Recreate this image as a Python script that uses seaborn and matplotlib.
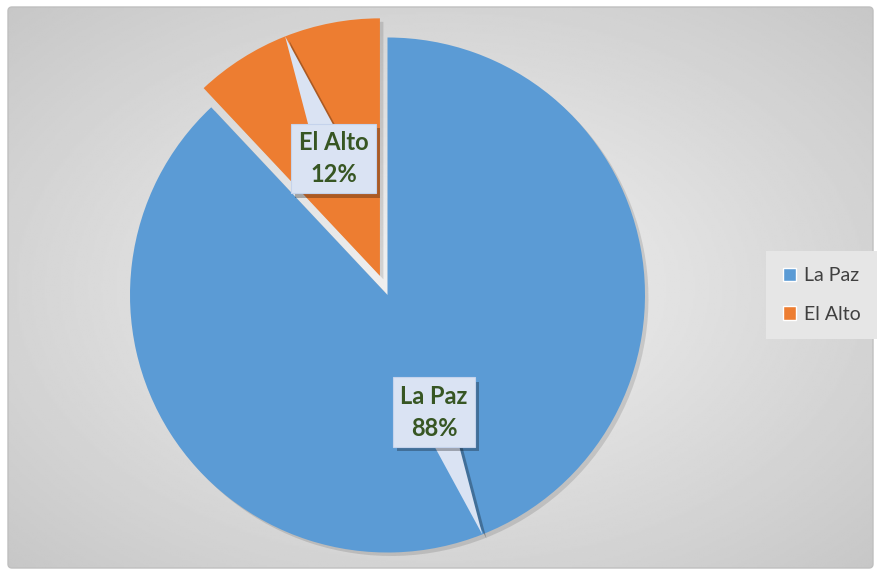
import numpy as np
import matplotlib.pyplot as plt
import matplotlib.patheffects as pe
from matplotlib.patches import FancyBboxPatch, Polygon, Patch
import seaborn as sns

# data
labels = ['La Paz', 'El Alto']
values = [88, 12]
colors = ['#5B9BD5', '#ED7D31']
explode = [0, 0.08]

sns.set_theme(style='white')
plt.rcParams['font.family'] = ['Lato', 'DejaVu Sans']

fig = plt.figure(figsize=(8.81, 5.77), dpi=100)
fig.patch.set_facecolor('white')

# chart area with a radial grey gradient
bg = fig.add_axes([0, 0, 1, 1])
yy, xx = np.mgrid[0:1:300j, 0:1:450j]
dist = np.sqrt((xx - 0.5) ** 2 + (yy - 0.5) ** 2) / np.sqrt(0.5)
shade = 0.95 - 0.17 * dist
im = bg.imshow(shade, cmap='gray', vmin=0, vmax=1, extent=(8, 873, 568, 7), aspect='auto')
frame = FancyBboxPatch((8, 7), 865, 561, boxstyle='round,pad=0,rounding_size=4',
                       fc='none', ec='#bfbfbf', lw=1)
bg.add_patch(frame)
im.set_clip_path(frame)
bg.set_xlim(0, 881)
bg.set_ylim(577, 0)
bg.axis('off')

# pie
ax = fig.add_axes([130 / 881, 24.5 / 577, 515 / 881, 515 / 577])
wedges, _ = ax.pie(values, colors=colors, explode=explode, startangle=90,
                   counterclock=False, wedgeprops=dict(linewidth=0))
ax.set_xlim(-1, 1)
ax.set_ylim(-1, 1)
ax.axis('off')
for w in wedges:
    w.set_clip_on(False)
    w.set_path_effects([pe.SimplePatchShadow(offset=(2.5, -2.5), shadow_rgbFace='black', alpha=0.12),
                        pe.Normal()])

# callout labels
shadow = [pe.SimplePatchShadow(offset=(3, -3), shadow_rgbFace='black', alpha=0.28), pe.Normal()]
for w, lab, val in zip(wedges, labels, values):
    mid = np.deg2rad((w.theta1 + w.theta2) / 2)
    cx, cy = w.center
    d = np.array([np.cos(mid), np.sin(mid)])
    tip = np.array([cx, cy]) + 1.0 * d
    box = np.array([cx, cy]) + 0.49 * d
    perp = np.array([-d[1], d[0]]) * 0.062
    tri = Polygon([tip, box + perp, box - perp], closed=True, fc='#DAE3F3', ec='none',
                  zorder=4, clip_on=False)
    tri.set_path_effects(shadow)
    ax.add_patch(tri)
    t = ax.text(box[0], box[1], f'{lab}\n{val}%', ha='center', va='center', fontsize=17,
                fontweight='bold', color='#375623', linespacing=1.45, zorder=5,
                bbox=dict(boxstyle='square,pad=0.32', fc='#DAE3F3', ec='#c5d3ec', lw=0.8))
    t.get_bbox_patch().set_path_effects(shadow)

# legend
handles = [Patch(facecolor=c, label=l) for c, l in zip(colors, labels)]
fig.legend(handles=handles, loc='center left', bbox_to_anchor=(766 / 881, 1 - 295 / 577),
           frameon=True, facecolor='#e6e6e6', edgecolor='none', fancybox=False,
           fontsize=14, labelcolor='#404040', handlelength=0.7, handleheight=0.7,
           handletextpad=0.4, labelspacing=1.1, borderpad=0.85, borderaxespad=0,
           framealpha=1)

fig.savefig('out.png', dpi=100)
